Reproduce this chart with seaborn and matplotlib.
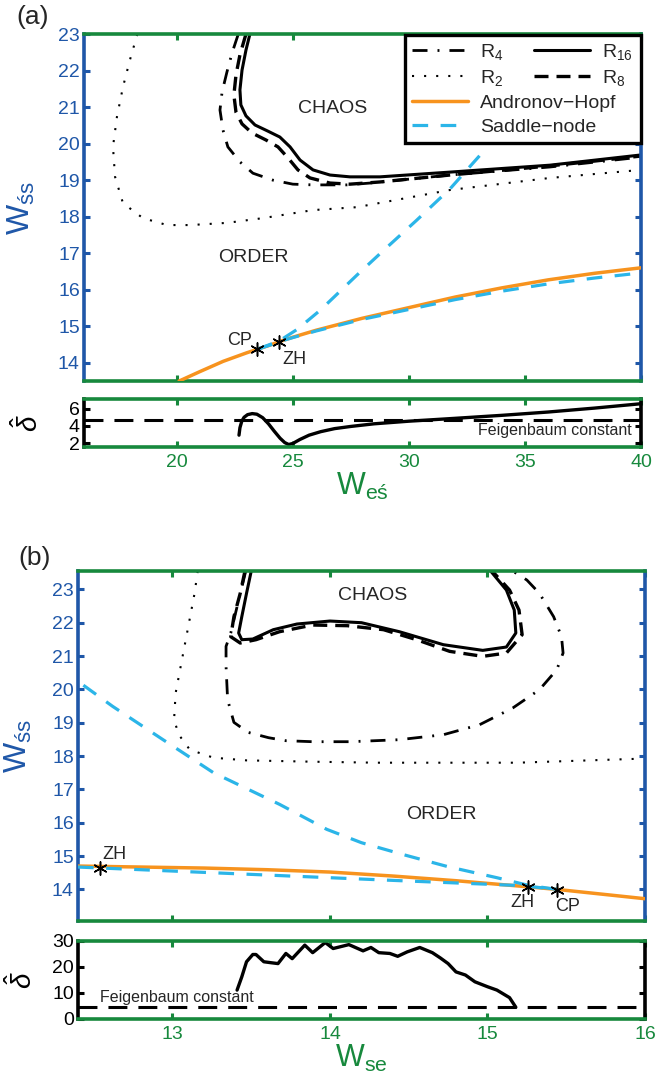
import numpy as np
import pandas as pd
import matplotlib
matplotlib.use("Agg")
import matplotlib.pyplot as plt
from matplotlib.lines import Line2D
import seaborn as sns

# ---------------- panel (a): (W_eś, W_śs) plane ----------------
a_hopf_x = [20.1, 21.0, 22.0, 23.0, 23.47, 24.0, 24.42, 25.0, 26.0, 28.0, 30.0, 32.0, 34.0, 36.0, 38.0, 40.0]
a_hopf_y = [13.50, 13.76, 14.04, 14.27, 14.37, 14.48, 14.58, 14.70, 14.89, 15.22, 15.51, 15.80, 16.05, 16.27, 16.45, 16.60]

a_sn_low_x = [23.47, 24.0, 24.42, 25.0, 26.0, 28.0, 30.0, 32.0, 34.0, 36.0, 38.0, 40.0]
a_sn_low_y = [14.37, 14.48, 14.58, 14.69, 14.87, 15.19, 15.46, 15.73, 15.96, 16.16, 16.32, 16.46]
a_sn_up_x = [23.47, 24.42, 25.2, 26.2, 27.76, 28.88, 30.33, 31.77, 33.3]
a_sn_up_y = [14.37, 14.60, 14.92, 15.45, 16.40, 17.06, 17.90, 18.76, 19.85]

a_r2_x = [18.3, 17.98, 17.68, 17.42, 17.25, 17.34, 17.68, 18.54, 19.58, 20.57, 22.16, 23.71, 25.87, 27.76, 31.77, 36.08, 40.0]
a_r2_y = [23.0, 22.29, 21.55, 20.73, 19.91, 19.09, 18.37, 17.96, 17.77, 17.77, 17.83, 17.96, 18.18, 18.26, 18.73, 19.06, 19.28]

a_r4_x = [22.65, 22.38, 22.16, 21.95, 21.86, 21.99, 22.20, 22.72, 23.28, 24.14, 25.00, 25.87, 27.33, 28.32, 31.77, 36.08, 40.0]
a_r4_y = [23.0, 22.48, 21.96, 21.41, 20.92, 20.37, 19.91, 19.50, 19.19, 19.00, 18.89, 18.87, 18.87, 18.92, 19.14, 19.36, 19.63]

a_r8_x = [22.98, 22.72, 22.55, 22.46, 22.55, 22.81, 23.24, 23.84, 24.36, 24.79, 25.22, 25.74, 26.60, 27.46, 28.75, 31.77, 36.08, 40.0]
a_r8_y = [23.0, 22.43, 21.88, 21.33, 20.86, 20.54, 20.29, 20.10, 19.91, 19.61, 19.28, 19.06, 18.92, 18.89, 18.95, 19.14, 19.39, 19.66]

a_r16_x = [23.15, 22.98, 22.81, 22.72, 22.76, 22.98, 23.37, 23.93, 24.44, 24.88, 25.31, 25.87, 26.60, 27.46, 28.75, 31.77, 36.08, 40.0]
a_r16_y = [23.0, 22.56, 22.01, 21.47, 21.06, 20.76, 20.51, 20.34, 20.18, 19.91, 19.55, 19.28, 19.14, 19.09, 19.09, 19.22, 19.41, 19.69]

a_pts_x = [23.47, 24.42]
a_pts_y = [14.37, 14.58]

a_delta_x = [22.68, 22.72, 22.8, 22.9, 23.05, 23.25, 23.45, 23.7, 23.95, 24.2, 24.45, 24.65, 24.82, 25.0,
             25.3, 25.7, 26.2, 26.8, 27.5, 28.5, 30.0, 32.0, 34.0, 36.0, 38.0, 40.0]
a_delta_y = [2.95, 3.8, 4.55, 5.0, 5.3, 5.42, 5.35, 4.95, 4.25, 3.4, 2.6, 2.1, 1.88, 2.0,
             2.45, 2.95, 3.35, 3.7, 3.95, 4.25, 4.55, 4.88, 5.22, 5.6, 6.05, 6.55]

# ---------------- panel (b): (W_se, W_śs) plane ----------------
b_hopf_x = [12.4, 12.8, 13.2, 13.6, 14.0, 14.4, 14.8, 15.2, 15.44, 15.7, 16.0]
b_hopf_y = [14.70, 14.67, 14.64, 14.59, 14.52, 14.40, 14.26, 14.10, 14.00, 13.87, 13.72]

b_sn_low_x = [12.4, 13.0, 13.7, 14.45, 15.18, 15.26, 15.44]
b_sn_low_y = [14.67, 14.55, 14.41, 14.26, 14.12, 14.09, 14.00]
b_sn_up_x = [15.44, 15.26, 15.06, 14.75, 14.46, 14.2, 13.98, 13.68, 13.26, 12.94, 12.62, 12.4]
b_sn_up_y = [14.00, 14.12, 14.35, 14.68, 15.05, 15.40, 15.80, 16.55, 17.50, 18.49, 19.49, 20.24]

b_r2_x = [13.16, 13.14, 13.10, 13.06, 13.02, 13.01, 13.04, 13.11, 13.26, 13.47, 13.89, 14.30, 15.19, 15.97]
b_r2_y = [23.55, 22.88, 21.88, 20.89, 19.89, 19.09, 18.64, 18.19, 17.95, 17.87, 17.83, 17.80, 17.80, 17.92]

b_r4_x = [13.465, 13.41, 13.37, 13.34, 13.34, 13.35, 13.39, 13.48, 13.61, 13.72, 13.89, 14.13, 14.44,
          14.72, 14.95, 15.16, 15.33, 15.44, 15.48, 15.47, 15.42, 15.33, 15.25, 15.16]
b_r4_y = [23.55, 22.48, 21.69, 21.29, 20.69, 19.69, 19.01, 18.71, 18.55, 18.46, 18.43, 18.43, 18.49,
          18.64, 18.94, 19.44, 19.99, 20.59, 21.09, 21.58, 22.18, 22.88, 23.28, 23.55]

b_r8_x = [13.46, 13.43, 13.39, 13.37, 13.43, 13.53, 13.68, 13.89, 14.11, 14.34, 14.55, 14.76, 14.97,
          15.12, 15.22, 15.20, 15.14, 15.03]
b_r8_y = [23.55, 22.88, 22.18, 21.58, 21.39, 21.49, 21.73, 21.93, 21.91, 21.79, 21.49, 21.14, 20.99,
          21.09, 21.64, 22.38, 22.98, 23.55]

b_r16_x = [13.50, 13.47, 13.44, 13.42, 13.44, 13.51, 13.64, 13.79, 14.00, 14.20, 14.44, 14.72, 14.97,
           15.12, 15.18, 15.17, 15.12, 15.02]
b_r16_y = [23.55, 22.88, 22.18, 21.69, 21.49, 21.51, 21.79, 21.96, 22.05, 22.00, 21.73, 21.34, 21.17,
           21.27, 21.69, 22.38, 22.98, 23.55]

b_pts_x = [12.54, 15.26, 15.44]
b_pts_y = [14.65, 14.08, 13.99]

b_delta_x = [13.41, 13.44, 13.47, 13.51, 13.53, 13.58, 13.63, 13.67, 13.72, 13.76, 13.84, 13.89, 13.97,
             14.02, 14.12, 14.21, 14.26, 14.31, 14.38, 14.43, 14.49, 14.57, 14.65, 14.70, 14.75, 14.80,
             14.86, 14.92, 15.00, 15.06, 15.14, 15.18]
b_delta_y = [11.1, 16.2, 22.0, 24.8, 24.8, 22.0, 21.6, 21.3, 25.2, 23.2, 28.4, 25.5, 29.4,
             27.1, 28.6, 26.2, 27.5, 25.5, 25.2, 24.1, 25.8, 27.5, 25.5, 23.5, 21.3, 18.1,
             16.9, 14.3, 12.4, 11.1, 8.2, 4.5]

feigenbaum = 4.669

# ---------------- styling ----------------
GREEN = "#17893d"
BLUE = "#1f57a8"
ORANGE = "#f7931e"
SKY = "#2bb5e8"

sns.set_style("white")
plt.rcParams["font.family"] = ["Liberation Sans", "DejaVu Sans"]
plt.rcParams["mathtext.fontset"] = "custom"
plt.rcParams["mathtext.rm"] = "Liberation Sans"
plt.rcParams["mathtext.it"] = "Liberation Sans:italic"
plt.rcParams["mathtext.bf"] = "Liberation Sans:bold"

LS_R2 = (0, (1.0, 4.8))
LS_R4 = (0, (5.4, 3.6, 0.7, 3.6))
LS_R8 = (0, (4.2, 2.4))
LS_SN = (0, (4.9, 3.9))
LS_FG = (0, (6.2, 3.6))

TICK_FS = 14


def curve(ax, x, y, color, ls, lw, z=2):
    df = pd.DataFrame({"x": x, "y": y})
    sns.lineplot(data=df, x="x", y="y", sort=False, estimator=None, errorbar=None,
                 color=color, linestyle=ls, linewidth=lw, ax=ax, zorder=z)


def stars(ax, x, y):
    df = pd.DataFrame({"x": x, "y": y})
    sns.scatterplot(data=df, x="x", y="y", marker=(6, 2, 0), s=90, color="k",
                    linewidth=1.1, ax=ax, zorder=6)


def style(ax, side_color, label_color, show_x):
    for s in ("top", "bottom"):
        ax.spines[s].set_color(GREEN)
        ax.spines[s].set_linewidth(2.6)
    for s in ("left", "right"):
        ax.spines[s].set_color(side_color)
        ax.spines[s].set_linewidth(2.6)
    ax.tick_params(axis="x", direction="in", top=True, bottom=True, color=GREEN,
                   labelcolor=GREEN, length=4, width=2.2, labelbottom=show_x,
                   labelsize=TICK_FS, pad=5)
    ax.tick_params(axis="y", direction="in", left=True, right=True, color=side_color,
                   labelcolor=label_color, length=4, width=2.2, labelsize=TICK_FS, pad=3)
    ax.set_xlabel("")
    ax.set_ylabel("")


fig = plt.figure(figsize=(6.56, 10.77), dpi=100)
ax_a = fig.add_axes([0.1280, 0.6462, 0.8491, 0.3222])
ax_ad = fig.add_axes([0.1280, 0.5850, 0.8491, 0.0446])
ax_b = fig.add_axes([0.1189, 0.1448, 0.8643, 0.3250])
ax_bd = fig.add_axes([0.1189, 0.0539, 0.8643, 0.0724])

# ---- panel (a) main ----
curve(ax_a, a_r2_x, a_r2_y, "k", LS_R2, 1.5)
curve(ax_a, a_r4_x, a_r4_y, "k", LS_R4, 2.0)
curve(ax_a, a_r8_x, a_r8_y, "k", LS_R8, 2.4)
curve(ax_a, a_r16_x, a_r16_y, "k", "-", 2.2)
curve(ax_a, a_hopf_x, a_hopf_y, ORANGE, "-", 2.5, 3)
curve(ax_a, a_sn_low_x, a_sn_low_y, SKY, LS_SN, 2.3, 4)
curve(ax_a, a_sn_up_x, a_sn_up_y, SKY, LS_SN, 2.3, 4)
stars(ax_a, a_pts_x, a_pts_y)
ax_a.text(22.72, 14.62, "CP", fontsize=13, ha="center", va="center")
ax_a.text(25.05, 14.10, "ZH", fontsize=13, ha="center", va="center")
ax_a.text(26.73, 20.97, "CHAOS", fontsize=14, ha="center", va="center")
ax_a.text(23.28, 16.87, "ORDER", fontsize=14, ha="center", va="center")
ax_a.set_xlim(16, 40)
ax_a.set_ylim(13.5, 23)
ax_a.set_xticks([20, 25, 30, 35, 40])
ax_a.set_yticks(range(14, 24))
style(ax_a, BLUE, BLUE, False)
ax_a.set_ylabel("W$_{\\mathregular{śs}}$", color=BLUE, fontsize=23)
ax_a.yaxis.set_label_coords(-0.085, 0.5)

# legend: left column with frame, right column placed alongside
h_r4 = Line2D([], [], color="k", linestyle=LS_R4, lw=2.0)
h_r2 = Line2D([], [], color="k", linestyle=LS_R2, lw=1.5)
h_ah = Line2D([], [], color=ORANGE, lw=2.5)
h_sn = Line2D([], [], color=SKY, linestyle=LS_SN, lw=2.3)
h_r16 = Line2D([], [], color="k", lw=2.2)
h_r8 = Line2D([], [], color="k", linestyle=LS_R8, lw=2.4)
leg1 = ax_a.legend([h_r4, h_r2, h_ah, h_sn], ["R$_4$", "R$_2$", "Andronov\u2212Hopf", "Saddle\u2212node"],
                   loc="upper right", bbox_to_anchor=(0.576, 0.5, 0.424, 0.497), mode="expand",
                   borderaxespad=0, fontsize=14, handlelength=2.9, handletextpad=0.6,
                   labelspacing=0.32, borderpad=0.35, fancybox=False, framealpha=1,
                   edgecolor="k")
leg1.get_frame().set_linewidth(2.4)
ax_a.add_artist(leg1)
leg2 = ax_a.legend([h_r16, h_r8], ["R$_{16}$", "R$_8$"], loc="upper left",
                   bbox_to_anchor=(0.795, 0.997), borderaxespad=0, fontsize=14,
                   handlelength=2.9, handletextpad=0.6, labelspacing=0.32, borderpad=0.35,
                   frameon=False)

# ---- panel (a) delta ----
curve(ax_ad, a_delta_x, a_delta_y, "k", "-", 2.4)
ax_ad.axhline(feigenbaum, color="k", linestyle=LS_FG, lw=2.2)
ax_ad.text(39.6, 3.5, "Feigenbaum constant", fontsize=11.5, ha="right", va="center")
ax_ad.set_xlim(16, 40)
ax_ad.set_ylim(1.6, 7.1)
ax_ad.set_xticks([20, 25, 30, 35, 40])
ax_ad.set_yticks([2, 4, 6])
style(ax_ad, "k", "k", True)
ax_ad.set_xlabel("W$_{\\mathregular{eś}}$", color=GREEN, fontsize=22, labelpad=0)
ax_ad.set_ylabel("$\\hat{\\delta}$", color="k", fontsize=20)
ax_ad.yaxis.set_label_coords(-0.072, 0.5)

# ---- panel (b) main ----
curve(ax_b, b_r2_x, b_r2_y, "k", LS_R2, 1.5)
curve(ax_b, b_r4_x, b_r4_y, "k", LS_R4, 2.0)
curve(ax_b, b_r8_x, b_r8_y, "k", LS_R8, 2.4)
curve(ax_b, b_r16_x, b_r16_y, "k", "-", 2.2)
curve(ax_b, b_hopf_x, b_hopf_y, ORANGE, "-", 2.5, 3)
curve(ax_b, b_sn_low_x, b_sn_low_y, SKY, LS_SN, 2.3, 4)
curve(ax_b, b_sn_up_x, b_sn_up_y, SKY, LS_SN, 2.3, 4)
stars(ax_b, b_pts_x, b_pts_y)
ax_b.text(12.63, 15.05, "ZH", fontsize=13, ha="center", va="center")
ax_b.text(15.22, 13.62, "ZH", fontsize=13, ha="center", va="center")
ax_b.text(15.51, 13.48, "CP", fontsize=13, ha="center", va="center")
ax_b.text(14.27, 22.83, "CHAOS", fontsize=14, ha="center", va="center")
ax_b.text(14.71, 16.25, "ORDER", fontsize=14, ha="center", va="center")
ax_b.set_xlim(12.4, 16)
ax_b.set_ylim(13.05, 23.55)
ax_b.set_xticks([13, 14, 15, 16])
ax_b.set_yticks(range(14, 24))
style(ax_b, BLUE, BLUE, False)
ax_b.set_ylabel("W$_{\\mathregular{śs}}$", color=BLUE, fontsize=23)
ax_b.yaxis.set_label_coords(-0.078, 0.5)

# ---- panel (b) delta ----
curve(ax_bd, b_delta_x, b_delta_y, "k", "-", 2.4)
ax_bd.axhline(feigenbaum, color="k", linestyle=LS_FG, lw=2.2)
ax_bd.text(12.54, 8.3, "Feigenbaum constant", fontsize=11.5, ha="left", va="center")
ax_bd.set_xlim(12.4, 16)
ax_bd.set_ylim(0, 30)
ax_bd.set_xticks([13, 14, 15, 16])
ax_bd.set_yticks([0, 10, 20, 30])
style(ax_bd, "k", "k", True)
ax_bd.set_xlabel("W$_{\\mathregular{se}}$", color=GREEN, fontsize=22, labelpad=0)
ax_bd.set_ylabel("$\\hat{\\delta}$", color="k", fontsize=20)
ax_bd.yaxis.set_label_coords(-0.07, 0.5)

fig.text(0.050, 0.984, "(a)", fontsize=19, ha="center", va="center")
fig.text(0.053, 0.482, "(b)", fontsize=19, ha="center", va="center")

fig.savefig("out.png", dpi=100)
